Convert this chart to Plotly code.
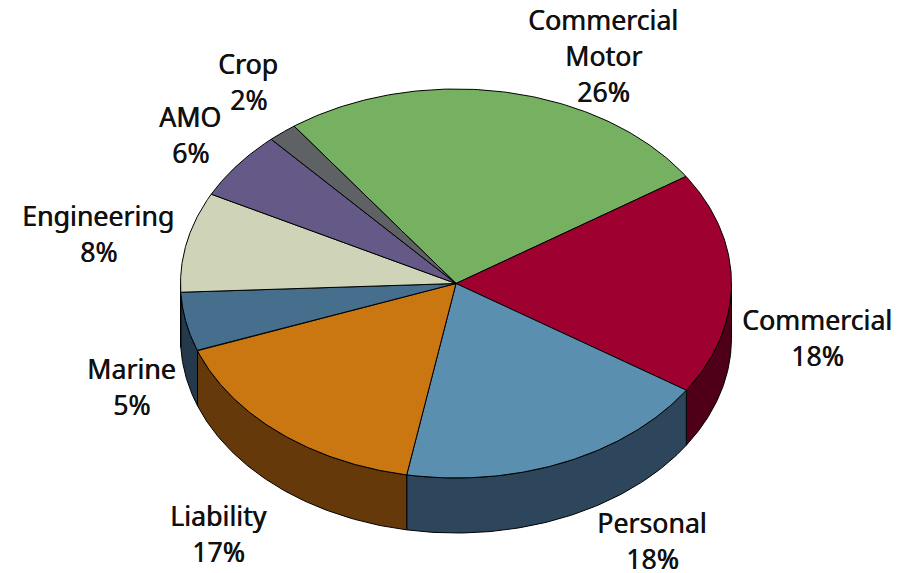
import numpy as np
import plotly.graph_objects as go

categories = ["Commercial Motor", "Commercial", "Personal", "Liability", "Marine", "Engineering", "AMO", "Crop"]
shares = [25.7, 18.5, 18.6, 16.5, 4.9, 8.3, 5.7, 1.7]
percent_labels = ["26%", "18%", "18%", "17%", "5%", "8%", "6%", "2%"]
top_colors = ["#76B061", "#9E002F", "#5B8FAF", "#CB7711", "#466F8E", "#CFD4B8", "#655A87", "#5E6264"]
side_colors = ["#3B5830", "#4F0018", "#2E465B", "#65390A", "#24394B", "#686A5C", "#332D44", "#2F3132"]

# Layout
W, H = 909, 573
CX, CY, RX, RY, DEPTH = 456, 283.5, 275.5, 194.5, 55
START_DEG = -36
FONT = dict(family="Noto Sans", size=26.7, color="#111111", weight=400, shadow="0.6px 0 0 #111111")
LINE_GAP = 36
label_lines = [["Commercial", "Motor"], ["Commercial"], ["Personal"], ["Liability"],
               ["Marine"], ["Engineering"], ["AMO"], ["Crop"]]
label_x = [603, 817, 652, 218, 131, 98, 190, 248]
label_top = [19, 319, 522, 515, 368, 215, 116, 63]


def ex(t):
    return CX + RX * np.sin(np.radians(t))


def ey(t, dz=0):
    return CY - RY * np.cos(np.radians(t)) + dz


fig = go.Figure()
edges = START_DEG + np.concatenate([[0], np.cumsum(shares)]) * 360 / sum(shares)
LINE = dict(color="#000000", width=1)

# side walls: only the part of each slice on the front half of the ellipse
for i in range(len(shares)):
    a, b = max(edges[i], 90), min(edges[i + 1], 270)
    if b <= a:
        continue
    t = np.linspace(a, b, 80)
    xs = np.concatenate([ex(t), ex(t[::-1]), [ex(t[0])]])
    ys = np.concatenate([ey(t), ey(t[::-1], DEPTH), [ey(t[0])]])
    fig.add_trace(go.Scatter(x=xs, y=ys, mode="lines", fill="toself", fillcolor=side_colors[i],
                             line=LINE, hoverinfo="skip", showlegend=False))

# top faces
for i in range(len(shares)):
    t = np.linspace(edges[i], edges[i + 1], 120)
    xs = np.concatenate([[CX], ex(t), [CX]])
    ys = np.concatenate([[CY], ey(t), [CY]])
    fig.add_trace(go.Scatter(x=xs, y=ys, mode="lines", fill="toself", fillcolor=top_colors[i],
                             line=LINE, name=categories[i], hoverinfo="name", showlegend=False))

# labels, one annotation per line for exact leading
for i in range(len(categories)):
    for j, txt in enumerate(label_lines[i] + [percent_labels[i]]):
        fig.add_annotation(x=label_x[i], y=label_top[i] + j * LINE_GAP, text=txt, showarrow=False,
                           xanchor="center", yanchor="middle", font=FONT)

fig.update_layout(
    width=W, height=H, margin=dict(l=0, r=0, t=0, b=0),
    paper_bgcolor="white", plot_bgcolor="white",
    xaxis=dict(range=[0, W], visible=False, fixedrange=True),
    yaxis=dict(range=[H, 0], visible=False, fixedrange=True),
)
fig.write_html("out.html", config=dict(displayModeBar=False),
               post_script="document.body.style.margin='0';document.body.style.overflow='hidden';")
